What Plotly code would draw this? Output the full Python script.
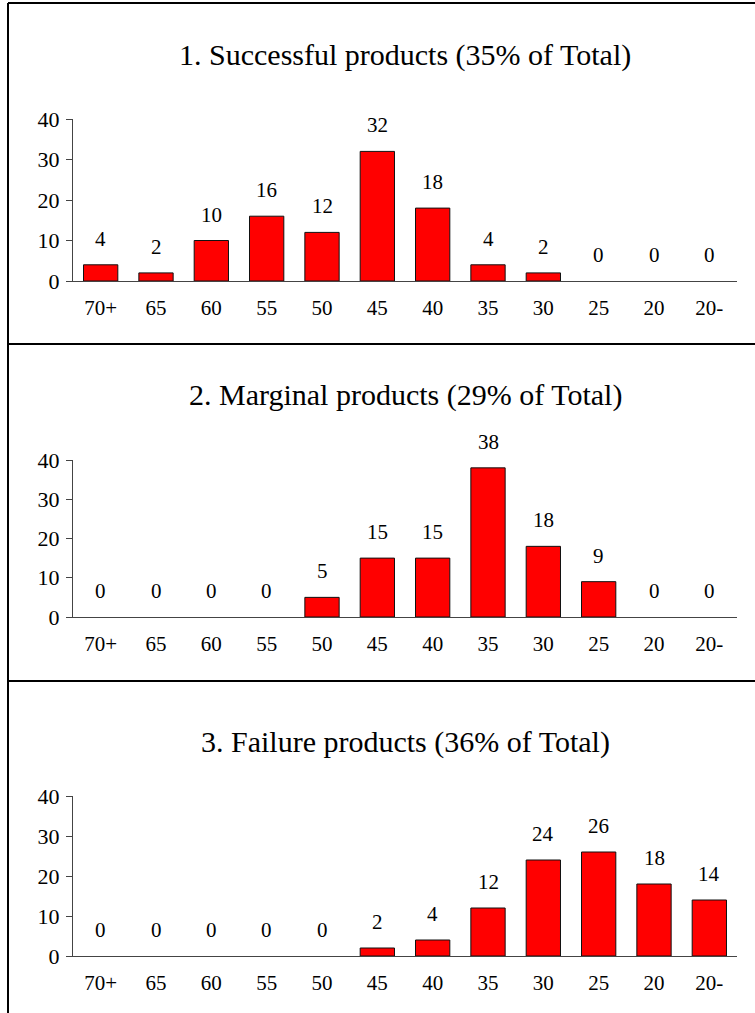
import plotly.graph_objects as go

# Price-band categories (left to right) and product counts per panel
categories = ["70+", "65", "60", "55", "50", "45", "40", "35", "30", "25", "20", "20-"]
successful = [4, 2, 10, 16, 12, 32, 18, 4, 2, 0, 0, 0]
marginal = [0, 0, 0, 0, 5, 15, 15, 38, 18, 9, 0, 0]
failure = [0, 0, 0, 0, 0, 2, 4, 12, 24, 26, 18, 14]
titles = [
    "1. Successful products (35% of Total)",
    "2. Marginal products (29% of Total)",
    "3. Failure products (36% of Total)",
]
y_ticks = [0, 10, 20, 30, 40]

W, H = 755, 1013
FONT = "Times New Roman, Liberation Serif, Tinos, DejaVu Serif, serif"
AXIS_COLOR = "#444444"

# pixel layout of each panel: (title centre y, y-axis bottom, y-axis top)
panels = [
    (55, 281, 119),
    (395, 617, 460),
    (742, 956, 796),
]
plot_x0, plot_x1 = 73, 737
dividers = [3, 344, 681]


def px_y(p):
    return 1 - p / H


def px_x(p):
    return p / W


series = [successful, marginal, failure]
positions = list(range(len(categories)))
boundaries = [i - 0.5 for i in range(len(categories) + 1)]
x_range = [-0.5, len(categories) - 0.5]

fig = go.Figure()
layout = {}
annotations = []

for p, (values, title, (ty, yb, yt)) in enumerate(zip(series, titles, panels)):
    xa, xb, xc = 3 * p + 1, 3 * p + 2, 3 * p + 3
    ya, yb_id = 2 * p + 1, 2 * p + 2
    xname = "x" if xa == 1 else f"x{xa}"
    yname = "y" if ya == 1 else f"y{ya}"

    # empty bins get no outline
    outline = [1 if v else 0 for v in values]
    fig.add_trace(go.Bar(
        x=positions, y=values, width=0.62,
        marker=dict(color="#FF0000", line=dict(color="#111111", width=outline)),
        xaxis=xname, yaxis=yname, showlegend=False, hoverinfo="skip",
    ))

    dom_x = [px_x(plot_x0), px_x(plot_x1)]
    dom_y = [px_y(yb), px_y(yt)]

    # main x axis: labels at the category centres
    layout[f"xaxis{xa}"] = dict(
        domain=dom_x, anchor=yname, range=x_range, tickmode="array",
        tickvals=positions, ticktext=categories, ticks="",
        ticklabelstandoff=8, automargin=False,
        showline=True, linecolor=AXIS_COLOR, linewidth=1,
        showgrid=False, zeroline=False, fixedrange=True,
        tickfont=dict(family=FONT, size=21, color="black"),
    )
    # boundary ticks, upward and downward
    for xid, side in ((xb, "inside"), (xc, "outside")):
        layout[f"xaxis{xid}"] = dict(
            overlaying=xname, anchor=yname, range=x_range, tickmode="array",
            tickvals=boundaries, ticks=side, ticklen=6 if side == "inside" else 5,
            tickcolor=AXIS_COLOR, tickwidth=1, showticklabels=False,
            automargin=False,
            showline=False, showgrid=False, zeroline=False, fixedrange=True,
        )
    # y axis with labels and outward ticks
    layout[f"yaxis{ya}"] = dict(
        domain=dom_y, anchor=xname, range=[0, 40], tickmode="array",
        tickvals=y_ticks, ticks="outside", ticklen=6, tickcolor=AXIS_COLOR,
        tickwidth=1, ticklabelstandoff=2, automargin=False,
        showline=True, linecolor=AXIS_COLOR, linewidth=1,
        showgrid=False, zeroline=False, fixedrange=True,
        tickfont=dict(family=FONT, size=22, color="black"),
    )
    # inward y ticks so each tick crosses the axis
    layout[f"yaxis{yb_id}"] = dict(
        overlaying=yname, anchor=xname, range=[0, 40], tickmode="array",
        tickvals=y_ticks, ticks="inside", ticklen=6, tickcolor=AXIS_COLOR,
        tickwidth=1, showticklabels=False, showline=False, showgrid=False,
        automargin=False, zeroline=False, fixedrange=True,
    )

    annotations.append(dict(
        text=title, xref="paper", yref="paper",
        x=px_x((plot_x0 + plot_x1) / 2), y=px_y(ty),
        xanchor="center", yanchor="middle", showarrow=False,
        font=dict(family=FONT, size=30, color="black"),
    ))
    for i, v in enumerate(values):
        annotations.append(dict(
            text=str(v), xref=xname, yref=yname, x=i, y=v,
            xanchor="center", yanchor="bottom", yshift=12, showarrow=False,
            font=dict(family=FONT, size=21, color="black"),
        ))

# outer frame and panel dividers
shapes = [dict(type="line", xref="paper", yref="paper",
               x0=px_x(8), x1=px_x(8), y0=px_y(dividers[0]), y1=0,
               line=dict(color="black", width=2))]
for d in dividers:
    shapes.append(dict(type="line", xref="paper", yref="paper",
                       x0=px_x(8), x1=1, y0=px_y(d), y1=px_y(d),
                       line=dict(color="black", width=2)))

fig.update_layout(
    width=W, height=H,
    margin=dict(l=0, r=0, t=0, b=0, pad=0, autoexpand=False),
    paper_bgcolor="white", plot_bgcolor="white", showlegend=False,
    font=dict(family=FONT),
    annotations=annotations, shapes=shapes, bargap=0.38,
    **layout,
)

fig.write_html("out.html", config={"displayModeBar": False})
